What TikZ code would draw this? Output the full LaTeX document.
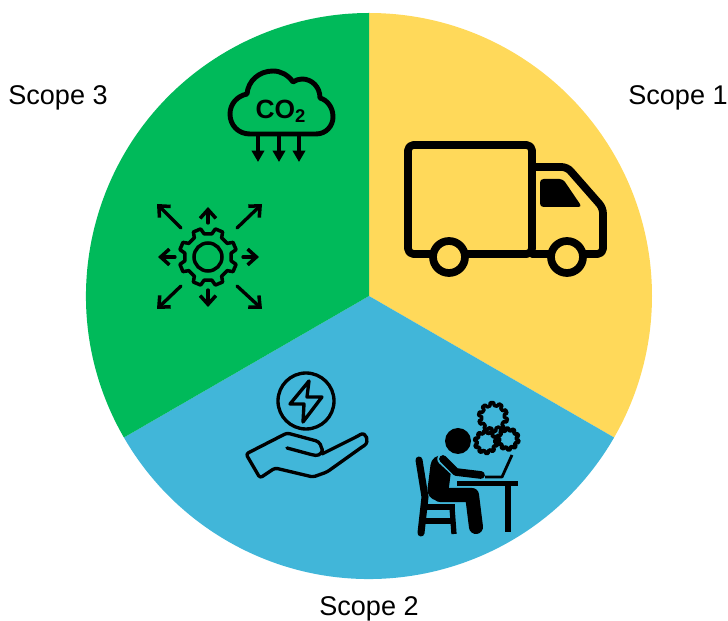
\documentclass[tikz,border=0pt]{standalone}
\usepackage{fontspec}
\setmainfont{Liberation Sans}
\usetikzlibrary{arrows.meta}
\definecolor{scopeyellow}{RGB}{255,217,90}
\definecolor{scopeblue}{RGB}{65,182,217}
\definecolor{scopegreen}{RGB}{0,186,90}
% gear outline: centre, outer radius, root radius, teeth, half width of a tooth
\newcommand{\gearicon}[5]{
  \pgfmathsetmacro{\gearstep}{360/#4}
  \draw[shift={#1}, rotate=22.5, line join=round] (-#5:#3)
    \foreach \a in {0,\gearstep,...,359} {
      -- ({\a-#5}:#3) -- ({\a-#5*0.6}:#2) -- ({\a+#5*0.6}:#2) -- ({\a+#5}:#3)
    } -- cycle;
}

\begin{document}
\begin{tikzpicture}[x=0.02cm, y=-0.02cm, >=Latex]
    \tikzstyle{scopelabel}=[font=\fontsize{15.4}{18}\selectfont]
    \tikzstyle{thick icon}=[line width=4.4pt, line join=round, line cap=round]
    \tikzstyle{mid icon}=[line width=2.8pt, line join=round]
    \tikzstyle{thin icon}=[line width=1.9pt, line join=round, line cap=round]
    \tikzstyle{open arrow}=[thin icon, -{Straight Barb[length=5pt, width=9pt, line width=2pt]}]
    \useasboundingbox (0,0) rectangle (728,621);

    % pie
    \fill[scopeyellow] (369,296) -- (369,13) arc[start angle=-90, end angle=30, radius=283] -- cycle;
    \fill[scopeblue] (369,296) -- ++(30:283) arc[start angle=30, end angle=150, radius=283] -- cycle;
    \fill[scopegreen] (369,296) -- ++(150:283) arc[start angle=150, end angle=270, radius=283] -- cycle;

    \node[scopelabel] (S1) at (678,98) {Scope 1};
    \node[scopelabel] (S2) at (369,609) {Scope 2};
    \node[scopelabel] (S3) at (58,98) {Scope 3};

    % truck
    \draw[thick icon, rounded corners=3pt] (532,254) -- (408,254) -- (408,145) -- (532,145) -- cycle;
    \draw[thick icon, rounded corners=3pt] (532,167) -- (567,167) -- (603,208) -- (603,254) -- (532,254);
    \fill[rounded corners=2pt] (540,179) -- (563,179) -- (582,207) -- (540,207) -- cycle;
    \filldraw[thick icon, fill=scopeyellow] (449,257) circle (16);
    \filldraw[thick icon, fill=scopeyellow] (567,257) circle (16);

    % cloud
    \draw[mid icon] (250,134) -- (316,134)
      .. controls (326,134) and (333,126) .. (333,117)
      .. controls (333,107) and (327,100) .. (320,98)
      .. controls (320,87) and (312,79) .. (302,79)
      .. controls (299,79) and (296,80) .. (293,82)
      .. controls (288,75) and (281,71) .. (273,71)
      .. controls (259,71) and (248,81) .. (247,94)
      .. controls (237,96) and (230,104) .. (230,114)
      .. controls (230,125) and (238,134) .. (250,134) -- cycle;
    \node[font=\bfseries\fontsize{15}{18}\selectfont, inner sep=0pt] (CO) at (281,111) {CO\textsubscript{2}};
    \foreach \x in {258,279,299}
      \draw[mid icon, -{Triangle[length=6.5pt, width=7pt]}] (\x,136) -- (\x,162);

    % gear with arrows
    \begin{scope}[line width=2pt]
      \gearicon{(208,257)}{29}{23.5}{8}{13}
      \draw (208,257) circle (14);
    \end{scope}
    \draw[open arrow] (181,228) -- (157,204);
    \draw[open arrow] (237,228) -- (262,204);
    \draw[open arrow] (181,286) -- (157,309);
    \draw[open arrow] (237,286) -- (262,309);
    \draw[open arrow] (208,223) -- (208,207);
    \draw[open arrow] (208,290) -- (208,307);
    \draw[open arrow] (175,257) -- (158,257);
    \draw[open arrow] (243,257) -- (259,257);

    % hand with bolt
    \draw[thin icon] (306,401) circle (28);
    \draw[thin icon] (309,381) -- (290,404) -- (304,404) -- (303,422) -- (322,397) -- (307,397) -- cycle;
    \draw[thin icon, rounded corners=1.5pt] (287,448) -- (313,455)
      .. controls (320,456) and (323,451) .. (321,447)
      .. controls (320,443) and (317,441) .. (313,440)
      -- (287,433) -- (246,454) -- (260,478) -- (275,468) -- (313,477) -- (327,472) -- (362,447)
      .. controls (370,442) and (366,431) .. (358,436) -- (322,454);

    % person at desk
    \begin{scope}[line width=2pt]
      \foreach \c/\ro/\ri/\w in {{(493,417)}/14.5/11.5/11, {(486,442)}/11.5/9/11, {(508,439)}/11/8.5/11} {
        \gearicon{\c}{\ro}{\ri}{10}{\w}
      }
    \end{scope}
    \fill (458,441) circle (13);
    \draw[line width=4pt, line cap=round] (419,460) -- (425,497) -- (421,533);
    \draw[line width=3.4pt] (425,507) -- (455,507);
    \draw[line width=3pt] (452,507) -- (454,534);
    \draw[line width=3pt] (425,521) -- (452,521);
    \draw[line width=12pt, line cap=round] (441,466) -- (438,490);
    \draw[line width=8pt, line cap=round, line join=round] (440,495) -- (472,495) -- (476,527);
    \draw[scopeblue, line width=6.5pt, line cap=round] (443,459) -- (456,471);
    \draw[line width=4.4pt, line cap=round, line join=round] (443,459) -- (456,472) -- (481,475);
    \fill (457,481) rectangle (518,486);
    \fill (505,486) rectangle (511,532);
    \draw[line width=1.6pt, line join=round] (485,477) -- (502,477) -- (512,455);
\end{tikzpicture}
\end{document}
